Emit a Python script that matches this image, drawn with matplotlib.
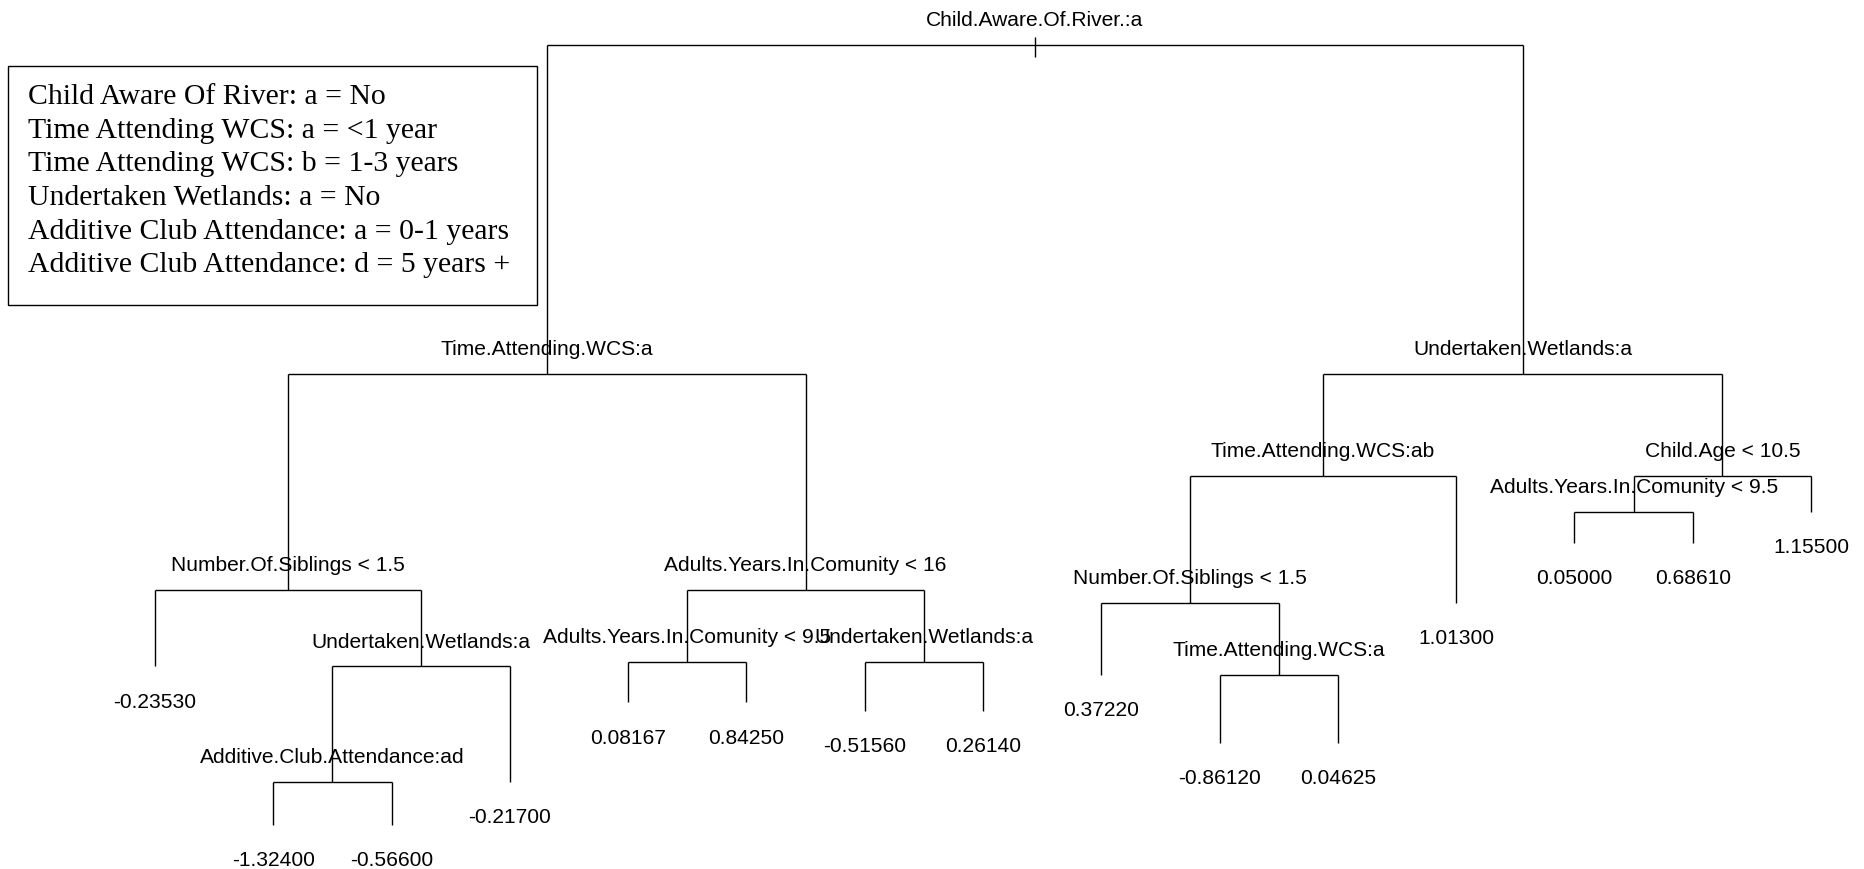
import matplotlib
matplotlib.use("Agg")
import matplotlib.pyplot as plt
from matplotlib.patches import Rectangle

# ---- tree data (R 'tree' node numbering: children of n are 2n, 2n+1) ----
node_ids = [1, 2, 3, 4, 5, 6, 7, 8, 9, 10, 11, 12, 13, 14, 15,
            18, 19, 20, 21, 22, 23, 24, 25, 28, 29, 36, 37, 50, 51]
# node deviance (vertical position in the plot)
node_dev = [52.0, 30.1, 30.1, 15.7, 15.7, 23.3, 23.3, 10.6, 10.6, 10.9, 10.9, 14.8, 14.8, 20.9, 20.9,
            2.9, 2.9, 8.2, 8.2, 7.6, 7.6, 10.0, 10.0, 18.8, 18.8, 0.0, 0.0, 5.5, 5.5]

split_nodes = [1, 2, 3, 4, 5, 6, 7, 9, 10, 11, 12, 14, 18, 25]
split_labels = ["Child.Aware.Of.River.:a",
                "Time.Attending.WCS:a",
                "Undertaken.Wetlands:a",
                "Number.Of.Siblings < 1.5",
                "Adults.Years.In.Comunity < 16",
                "Time.Attending.WCS:ab",
                "Child.Age < 10.5",
                "Undertaken.Wetlands:a",
                "Adults.Years.In.Comunity < 9.5",
                "Undertaken.Wetlands:a",
                "Number.Of.Siblings < 1.5",
                "Adults.Years.In.Comunity < 9.5",
                "Additive.Club.Attendance:ad",
                "Time.Attending.WCS:a"]

leaf_nodes = [8, 36, 37, 19, 20, 21, 22, 23, 24, 50, 51, 13, 28, 29, 15]
leaf_values = ["-0.23530", "-1.32400", "-0.56600", "-0.21700", "0.08167", "0.84250",
               "-0.51560", "0.26140", "0.37220", "-0.86120", "0.04625", "1.01300",
               "0.05000", "0.68610", "1.15500"]

legend_lines = ["Child Aware Of River: a = No",
                "Time Attending WCS: a = <1 year",
                "Time Attending WCS: b = 1-3 years",
                "Undertaken Wetlands: a = No",
                "Additive Club Attendance: a = 0-1 years",
                "Additive Club Attendance: d = 5 years +"]

# ---- layout ----
W, H, DPI = 1865, 870, 100
fig = plt.figure(figsize=(W / DPI, H / DPI), dpi=DPI)
ax = fig.add_axes([0, 0, 1, 1])
ax.set_axis_off()

# leaf spacing in pixels: first leaf at 155px, step 118.29px
first_px, step_px = 155.0, 118.29
ax.set_xlim(1 - first_px / step_px, 1 + (W - first_px) / step_px)
# deviance scale: 0 at 826px from top, 15 px per unit
base_px, unit_px = 826.0, 15.0
ax.set_ylim((base_px - H) / unit_px, base_px / unit_px)

dev = dict(zip(node_ids, node_dev))
xpos = {}
for i, n in enumerate(leaf_nodes):
    xpos[n] = i + 1.0


def get_x(n):
    if n in xpos:
        return xpos[n]
    xpos[n] = 0.5 * (get_x(2 * n) + get_x(2 * n + 1))
    return xpos[n]


for n in node_ids:
    get_x(n)

lw = 1.0
col = "black"
for n in split_nodes:
    x, y = xpos[n], dev[n]
    l, r = 2 * n, 2 * n + 1
    ax.plot([xpos[l], xpos[r]], [y, y], color=col, lw=lw, solid_capstyle="butt")
    for c in (l, r):
        ax.plot([xpos[c], xpos[c]], [y, dev[c]], color=col, lw=lw, solid_capstyle="butt")

# root tick
ax.plot([xpos[1], xpos[1]], [dev[1] + 8 / unit_px, dev[1] - 12 / unit_px],
        color=col, lw=lw, solid_capstyle="butt")

pt = 72.0 / DPI
fs_tree = 15.1
for n, lab in zip(split_nodes, split_labels):
    ax.annotate(lab, xy=(xpos[n], dev[n]), xytext=(0, 19.5 * pt), textcoords="offset points",
                ha="center", va="baseline", fontsize=fs_tree, family="Liberation Sans")

for n, lab in zip(leaf_nodes, leaf_values):
    ax.annotate(lab, xy=(xpos[n], dev[n]), xytext=(0, -40.5 * pt), textcoords="offset points",
                ha="center", va="baseline", fontsize=fs_tree, family="Liberation Sans")

# ---- legend box (pixel layout) ----
bx0, by0, bx1, by1 = 8, 67, 537, 306
fig.patches.append(Rectangle((bx0 / W, 1 - by1 / H), (bx1 - bx0) / W, (by1 - by0) / H,
                             transform=fig.transFigure, fill=False, ec="black", lw=1.0))
for i, t in enumerate(legend_lines):
    yb = 104 + i * 33.7
    fig.text(28 / W, 1 - yb / H, t, ha="left", va="baseline", fontsize=21.4,
             family="Liberation Serif")

fig.savefig("out.png", dpi=DPI, facecolor="white")
